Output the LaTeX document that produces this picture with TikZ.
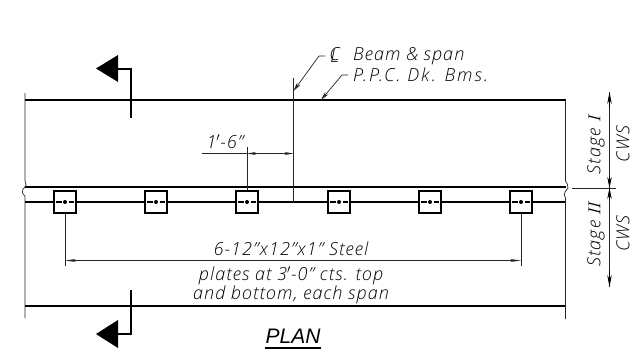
\documentclass[tikz,border=0pt]{standalone}
\usepackage{fontspec}
\setmainfont{Open Sans Light}[ItalicFont={Open Sans Light Italic},LetterSpace=6]
\newfontfamily\titlefont{Liberation Sans}[ItalicFont={Liberation Sans Italic}]
\usetikzlibrary{arrows.meta}
\tikzset{
  x=1pt,y=-1pt,
  thick line/.style={line width=2pt,black},
  thin line/.style={line width=.7pt,black!85},
  plate/.style={draw,line width=1.9pt,minimum size=22.5pt,inner sep=0pt,fill=white},
  lbl/.style={inner sep=0pt,font=\fontsize{18}{18}\selectfont\itshape,text=black},
  dimarrow/.style={thin line,-{Stealth[length=9pt,width=3pt]}},
  leader/.style={thin line,-{Stealth[length=9pt,width=4pt]}},
  cutmark/.style={line width=2pt,black},
  cuthead/.style={fill=black,draw=none}
}
\begin{document}
\begin{tikzpicture}
\useasboundingbox (0,0) rectangle (637,349);
% reference points
\coordinate (tl) at (25,100); \coordinate (tr) at (566,100);
\coordinate (ml) at (25,187); \coordinate (mr) at (566,187);
\coordinate (bl) at (25,202); \coordinate (br) at (566,202);
\coordinate (fl) at (25,306); \coordinate (fr) at (566,306);
% beam lines
\draw[thick line] (tl) -- (tr);
\draw[thick line] (ml) -- (mr);
\draw[thick line] (bl) -- (br);
\draw[thick line] (fl) -- (fr);
% end lines with break
\coordinate (tle) at (25,93); \coordinate (fle) at (25,318);
\coordinate (tre) at (565.5,100); \coordinate (fre) at (565.5,319);
\draw[thin line] (tle) -- (25,181) .. controls (26,184) and (27,186) .. (ml)
  .. controls (21,190) and (22,194) .. (25,196) -- (bl) -- (fle);
\draw[thin line] (tre) -- (565.5,181) .. controls (566,183) and (569,185) .. (568,188)
  .. controls (567,190) and (562,193) .. (565.5,198) -- (fre);
% plates
\foreach \n/\px in {a/65,b/156,c/247,d/339,e/430,f/521}{
  \node[plate] (p\n) at (\px,202) {};
  \draw[line width=1.3pt] ([xshift=-9pt]p\n.center) -- ([xshift=-3.5pt]p\n.center);
  \draw[line width=1.3pt] ([xshift=3.5pt]p\n.center) -- ([xshift=9pt]p\n.center);
  \fill (p\n.center) circle (2pt);
}
% centre line and offsets
\coordinate (cltop) at (293.5,78); \coordinate (clbot) at (293.5,202);
\draw[thin line] (cltop) -- (clbot);
\draw[thin line] (pc.north) -- (247,147);
\coordinate (dimL) at (247,153.5); \coordinate (dimR) at (293.5,153.5);
\coordinate (dimS) at (202,153.5);
\draw[thin line] (dimS) -- (dimL);
\draw[dimarrow] (270,153.5) -- (dimL);
\draw[dimarrow] (270,153.5) -- (dimR);
\node[lbl,anchor=base] (d1) at (225,148) {1$'$-6"};
% plate dimension
\coordinate (dA) at (65,260.5); \coordinate (dB) at (521,260.5);
\draw[thin line] (pa.south) -- (65,266);
\draw[thin line] (pf.south) -- (521,266);
\draw[dimarrow,{Stealth[length=11pt,width=3pt]}-{Stealth[length=11pt,width=3pt]}] (dA) -- (dB);
\node[lbl,anchor=base] (t1) at (291,255) {6-12"x12"x1" Steel};
\node[lbl,anchor=base] (t2) at (291,280) {plates at 3$'$-0" cts. top};
\node[lbl,anchor=base] (t3) at (291,299) {and bottom, each span};
% leaders
\node[lbl,anchor=base west] (bm) at (353,60) {Beam \& span};
\node[lbl,anchor=base west] (pcl) at (353,81) {\addfontfeature{LetterSpace=11}P.P.C. Dk. Bms.};
\node[lbl,anchor=base] (cl) at (334.5,60) {\makebox[0pt]{C}\makebox[0pt]{\raisebox{-2pt}{L}}};
\coordinate (l1) at (319,56); \coordinate (l2) at (342,75);
\draw[leader] (325,56) -- (l1) -- (293.5,91);
\draw[leader] (348,75) -- (l2) -- (321,100);
% section marks
\coordinate (s1a) at (130.5,118); \coordinate (s1b) at (130.5,68.5); \coordinate (s1c) at (117,68.5);
\draw[cutmark] (s1a) -- (s1b) -- (s1c);
\fill[cuthead] (96,68.5) -- (118,55) -- (118,82) -- cycle;
\coordinate (s2a) at (130.5,290); \coordinate (s2b) at (130.5,334); \coordinate (s2c) at (117,334);
\draw[cutmark] (s2a) -- (s2b) -- (s2c);
\fill[cuthead] (96,334) -- (118,320) -- (118,348) -- cycle;
% stage dimension
\coordinate (cwsT) at (609.5,92); \coordinate (cwsM) at (609.5,188); \coordinate (cwsB) at (609.5,287);
\coordinate (cwsTa) at (609.5,108); \coordinate (cwsMa) at (609.5,176); \coordinate (cwsMb) at (609.5,200); \coordinate (cwsBa) at (609.5,271);
\draw[thin line] (cwsT) -- (cwsB);
\draw[thin line] (572,188) -- (616,188);
\draw[line width=.7pt,-{Stealth[length=12pt,width=4.5pt]}] (cwsTa) -- (cwsT);
\draw[line width=.7pt,-{Stealth[length=11pt,width=4.5pt]}] (cwsMa) -- (cwsM);
\draw[line width=.7pt,-{Stealth[length=11pt,width=4.5pt]}] (cwsMb) -- (cwsM);
\draw[line width=.7pt,-{Stealth[length=12pt,width=4.5pt]}] (cwsBa) -- (cwsB);
\node[lbl,rotate=90] (st1) at (596,144) {Stage $I$};
\node[lbl,rotate=90] (cw1) at (623,144) {CWS};
\node[lbl,rotate=90] (st2) at (596,233.5) {Stage $I\!I$};
\node[lbl,rotate=90] (cw2) at (623,233.5) {CWS};
% title
\node[lbl,anchor=base,font=\fontsize{21}{21}\selectfont\titlefont\itshape] (pl) at (293,343) {PLAN};
\draw[line width=1.8pt] (265,347.6) -- (321,347.6);
\end{tikzpicture}
\end{document}
